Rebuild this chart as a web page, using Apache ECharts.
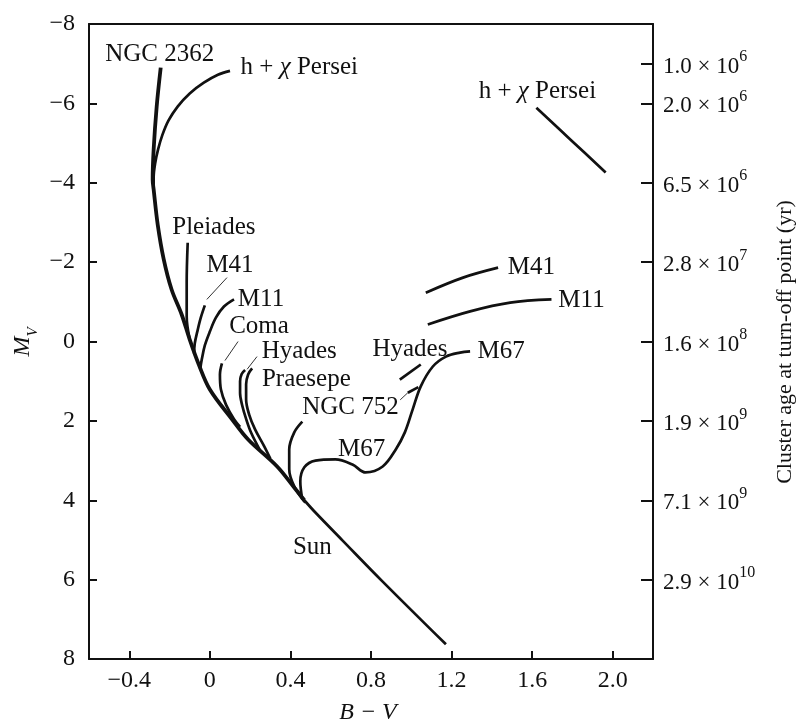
<!DOCTYPE html>
<html>
<head>
<meta charset="utf-8">
<script src="https://cdn.jsdelivr.net/npm/echarts@6/dist/echarts.min.js"></script>
<style>
html,body{margin:0;padding:0;background:#fff;}
#chart{width:805px;height:727px;}
</style>
</head>
<body>
<div id="chart"></div>
<script>
// ---- axis ticks ----
const xTicks = [-0.4, 0, 0.4, 0.8, 1.2, 1.6, 2.0];
const ageTickMv = [-7, -6, -4, -2, 0, 2, 4, 6];
const ageTickMantissa = ['1.0', '2.0', '6.5', '2.8', '1.6', '1.9', '7.1', '2.9'];
const ageTickExp = ['6', '6', '6', '7', '8', '9', '9', '10'];

// ---- cluster sequences [B-V, M_V] ----
const mainSequenceUpper = [[-0.244,-6.9],[-0.264,-5.92],[-0.279,-4.84],[-0.284,-4.08],[-0.279,-3.83],[-0.259,-2.95],[-0.229,-2.07],[-0.190,-1.31],[-0.140,-0.68],[-0.100,-0.05],[-0.055,0.58],[0.000,1.21],[0.110,1.96],[0.190,2.47],[0.334,3.15],[0.414,3.65],[0.469,4.00]];
const mainSequenceLower = [[0.469,4.00],[0.524,4.31],[0.658,5.01],[0.858,6.05],[1.172,7.63]];
const hPersei = [[0.100,-6.82],[0.040,-6.72],[-0.030,-6.52],[-0.100,-6.25],[-0.160,-5.92],[-0.205,-5.57],[-0.236,-5.20],[-0.257,-4.84],[-0.272,-4.48],[-0.279,-4.14],[-0.279,-3.83]];
const hPerseiGiants = [[1.621,-5.89],[1.796,-5.06],[1.965,-4.26]];
const pleiades = [[-0.110,-2.49],[-0.115,-1.49],[-0.115,-0.63],[-0.100,-0.05]];
const m41 = [[-0.025,-0.91],[-0.045,-0.60],[-0.060,-0.30],[-0.075,0.05],[-0.078,0.30]];
const m41Giants = [[1.072,-1.23],[1.257,-1.61],[1.431,-1.86]];
const m11 = [[0.120,-1.06],[0.070,-0.88],[0.030,-0.60],[0.000,-0.25],[-0.025,0.10],[-0.040,0.45],[-0.048,0.70]];
const m11Giants = [[1.082,-0.43],[1.292,-0.76],[1.491,-0.98],[1.696,-1.06]];
const coma = [[0.060,0.55],[0.050,0.83],[0.055,1.21],[0.080,1.59],[0.120,1.96],[0.150,2.15]];
const hyades = [[0.175,0.72],[0.158,0.82],[0.150,1.00],[0.150,1.30],[0.160,1.60],[0.180,1.95],[0.205,2.30],[0.250,2.75]];
const hyadesGiants = [[0.943,0.96],[1.047,0.58]];
const praesepe = [[0.210,0.68],[0.190,0.83],[0.180,1.08],[0.180,1.46],[0.195,1.84],[0.225,2.22],[0.270,2.64],[0.300,2.95]];
const ngc752 = [[0.459,2.02],[0.419,2.29],[0.394,2.72],[0.394,3.22],[0.419,3.65],[0.474,4.06]];
const ngc752Giants = [[0.983,1.29],[1.035,1.15]];
const m67 = [[0.459,3.98],[0.449,3.53],[0.469,3.17],[0.524,3.00],[0.623,2.97],[0.708,3.10],[0.773,3.30],[0.858,3.15],[0.923,2.72],[0.968,2.29],[1.007,1.71],[1.047,1.13],[1.107,0.63],[1.172,0.38],[1.242,0.28],[1.292,0.25]];

// ---- leader lines [x1, y1, x2, y2] ----
const leaders = [[-0.015,-1.06,0.085,-1.61],[0.075,0.48,0.14,0.0],[0.185,0.70,0.234,0.38],[0.945,1.47,0.983,1.29]];

// ---- labels ----
const labelTexts = ['NGC 2362','h + {c|χ} Persei','h + {c|χ} Persei','Pleiades','M41','M11','Coma','Hyades','Praesepe','NGC 752','M67','Sun','Hyades','M67','M41','M11'];
const labelX = [-0.249, 0.444, 1.626, 0.02, 0.10, 0.254, 0.244, 0.444, 0.479, 0.698, 0.753, 0.509, 0.993, 1.446, 1.596, 1.845];
const labelY = [-7.23, -6.90, -6.30, -2.87, -1.91, -1.06, -0.38, 0.25, 0.96, 1.66, 2.72, 5.19, 0.20, 0.25, -1.86, -1.03];

const SERIF = '"Liberation Serif", "DejaVu Serif", serif';
const INK = '#111111';

const curves = [mainSequenceLower, hPersei, hPerseiGiants, pleiades, m41, m41Giants, m11, m11Giants, coma, hyades, hyadesGiants, praesepe, ngc752, ngc752Giants, m67];

const series = curves.map(d => ({
  type: 'line', data: d, smooth: 0.35, symbol: 'none', silent: true,
  lineStyle: {color: INK, width: 2.7}, z: 3
}));
series.push({
  type: 'line', data: mainSequenceUpper, smooth: 0.35, symbol: 'none', silent: true,
  lineStyle: {color: INK, width: 3.8}, z: 3
});
leaders.forEach(l => series.push({
  type: 'line', data: [[l[0], l[1]], [l[2], l[3]]], symbol: 'none', silent: true,
  lineStyle: {color: '#333', width: 1}, z: 2
}));

const baseGraphics = [
  {type: 'text', x: 26, y: 342, rotation: Math.PI / 2, silent: true,
    style: {text: '{i|M}{s|V}', align: 'center', verticalAlign: 'middle',
      rich: {i: {fontFamily: SERIF, fontSize: 24, fontStyle: 'italic', fill: INK, verticalAlign: 'top', lineHeight: 30},
             s: {fontFamily: SERIF, fontSize: 15, fontStyle: 'italic', fill: INK, verticalAlign: 'bottom', lineHeight: 30}}}},
  {type: 'text', x: 368, y: 713, silent: true,
    style: {text: 'B \u2212 V', align: 'center', verticalAlign: 'middle', fontFamily: SERIF, fontSize: 24, fontStyle: 'italic', fill: INK}},
  {type: 'text', x: 785, y: 342, rotation: Math.PI / 2, silent: true,
    style: {text: 'Cluster age at turn-off point (yr)', align: 'center', verticalAlign: 'middle', fontFamily: SERIF, fontSize: 22, fill: INK}}
];

const chart = echarts.init(document.getElementById('chart'), null, {renderer: 'canvas'});
const axisLineStyle = {color: INK, width: 2};
chart.setOption({
  backgroundColor: '#fff',
  animation: false,
  grid: {left: 89, right: 152, top: 24, bottom: 68, containLabel: false},
  xAxis: [{
    type: 'value', min: -0.6, max: 2.2, position: 'bottom',
    axisLine: {show: true, onZero: false, lineStyle: axisLineStyle},
    axisTick: {show: true, inside: true, length: 8, customValues: xTicks, lineStyle: {color: INK, width: 2}},
    axisLabel: {show: true, customValues: xTicks, margin: 10, color: INK, fontFamily: SERIF, fontSize: 24,
      formatter: v => v < 0 ? '\u2212' + Math.abs(v) : (v === 0 ? '0' : v.toFixed(1))},
    splitLine: {show: false}
  }, {
    type: 'value', min: -0.6, max: 2.2, position: 'top',
    axisLine: {show: true, onZero: false, lineStyle: axisLineStyle},
    axisTick: {show: false}, axisLabel: {show: false}, splitLine: {show: false}
  }],
  yAxis: [{
    type: 'value', min: -8, max: 8, interval: 2, inverse: true, position: 'left',
    axisLine: {show: true, onZero: false, lineStyle: axisLineStyle},
    axisTick: {show: true, inside: true, length: 8, lineStyle: {color: INK, width: 2}},
    axisLabel: {margin: 14, color: INK, fontFamily: SERIF, fontSize: 24,
      formatter: v => v < 0 ? '\u2212' + Math.abs(v) : String(v)},
    splitLine: {show: false}
  }, {
    type: 'value', min: -8, max: 8, inverse: true, position: 'right',
    axisLine: {show: true, onZero: false, lineStyle: axisLineStyle},
    axisTick: {show: true, inside: true, length: 12, customValues: ageTickMv, lineStyle: {color: INK, width: 2}},
    axisLabel: {customValues: ageTickMv, margin: 10, color: INK, fontFamily: SERIF, fontSize: 23,
      formatter: v => {
        const i = ageTickMv.indexOf(v);
        return '{m|' + ageTickMantissa[i] + ' \u00d7 10}{e|' + ageTickExp[i] + '}';
      },
      rich: {
        m: {fontFamily: SERIF, fontSize: 23, color: INK, verticalAlign: 'bottom', lineHeight: 29},
        e: {fontFamily: SERIF, fontSize: 16, color: INK, verticalAlign: 'top', lineHeight: 29}
      }},
    splitLine: {show: false}
  }],
  graphic: baseGraphics,
  series: series
});

// cluster name labels placed through the chart's own coordinate conversion
const labelGraphics = labelTexts.map((t, i) => {
  const p = chart.convertToPixel({xAxisIndex: 0, yAxisIndex: 0}, [labelX[i], labelY[i]]);
  return {type: 'text', x: p[0], y: p[1], silent: true, z: 10,
    style: {text: t, align: 'center', verticalAlign: 'middle', fontFamily: SERIF, fontSize: 25, fill: INK,
      rich: {c: {fontFamily: SERIF, fontSize: 25, fontStyle: 'italic', fill: INK}}}};
});
chart.setOption({graphic: baseGraphics.concat(labelGraphics)});
</script>
</body>
</html>
